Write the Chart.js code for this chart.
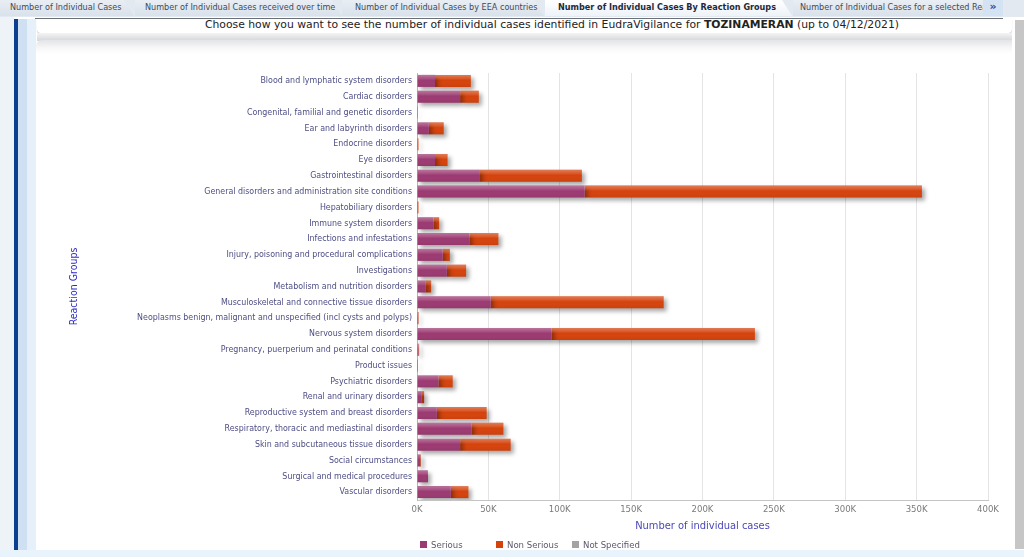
<!DOCTYPE html>
<html>
<head>
<meta charset="utf-8">
<script src="https://cdn.jsdelivr.net/npm/chart.js@4.4.0/dist/chart.umd.min.js"></script>
<style>
  html,body{margin:0;padding:0;width:1024px;height:557px;overflow:hidden;background:#fff;font-family:"DejaVu Sans",Verdana,sans-serif;}
  .abs{position:absolute;}
  #tabs{left:0;top:0;width:1024px;height:17px;background:#e3e9f0;}
  .tab{position:absolute;top:0;height:16px;line-height:15px;font-size:9px;color:#3d4b5c;font-family:"DejaVu Sans Condensed","DejaVu Sans",sans-serif;white-space:nowrap;overflow:hidden;
       background:linear-gradient(#e9eef4,#d9e1ea);clip-path:polygon(0 0,calc(100% - 10px) 0,100% 100%,0 100%);box-sizing:border-box;}
  .tab.sel{background:linear-gradient(#ffffff,#eef3f8);font-weight:bold;color:#1e2a3a;}
</style>
</head>
<body>
<div id="tabs" class="abs">
  <div class="tab" style="left:0;width:134px;padding-left:10px;">Number of Individual Cases</div>
  <div class="tab" style="left:135px;width:207px;padding-left:10px;">Number of Individual Cases received over time</div>
  <div class="tab" style="left:342px;width:202px;padding-left:13px;">Number of Individual Cases by EEA countries</div>
  <div class="tab sel" style="left:545px;width:247px;padding-left:13px;">Number of Individual Cases By Reaction Groups</div>
  <div class="tab" style="left:793px;width:190px;padding-left:7px;clip-path:none;">Number of Individual Cases for a selected Rea</div>
  <div class="abs" style="left:983px;top:0;width:20px;height:16px;background:#d4e3f3;color:#2a4a9a;font-size:11px;line-height:14px;font-weight:bold;text-align:center;">»</div>
</div>
<div class="abs" style="left:35px;top:18px;width:968px;height:1px;background:#6a6f78;"></div>
<!-- left bands -->
<div class="abs" style="left:0;top:17px;width:14px;height:540px;background:#eef3f8;"></div>
<div class="abs" style="left:14px;top:19px;width:4px;height:531px;background:#0c3f8e;"></div>
<div class="abs" style="left:18px;top:19px;width:9px;height:531px;background:#cfe0f3;"></div>
<div class="abs" style="left:27px;top:19px;width:9px;height:531px;background:#e6f0fa;"></div>
<!-- title box -->
<div class="abs" style="left:37px;top:19px;width:975px;height:14px;background:#fff;border-radius:0 0 4px 4px;box-shadow:0 1px 1px #c8c8c8;"></div>
<div class="abs" id="title" style="left:37px;top:17px;width:1030px;text-align:center;font-size:10.8px;color:#222;line-height:16px;white-space:nowrap;">Choose how you want to see the number of individual cases identified in EudraVigilance for <b>TOZINAMERAN</b> (up to 04/12/2021)</div>
<div class="abs" style="left:37px;top:33px;width:975px;height:8px;background:linear-gradient(#f4f4f4,#d4d6d9);"></div>
<!-- panel -->
<div class="abs" style="left:36px;top:40px;width:976px;height:510px;background:linear-gradient(#e2e4e7 0px,#f7f7f8 8px,#ffffff 14px);border-radius:6px 0 0 0;"></div>
<!-- scrollbar -->
<div class="abs" style="left:1015px;top:20px;width:9px;height:529px;background:#c6c6c6;"></div>
<!-- bottom strip -->
<div class="abs" style="left:0;top:550px;width:1024px;height:7px;background:#e9f3fb;"></div>

<canvas id="c" class="abs" style="left:0;top:0;" width="1024" height="557"></canvas>
<div id="legend" class="abs" style="left:0;top:538px;width:1024px;height:14px;"></div>

<script>
const categories = [
  "Blood and lymphatic system disorders",
  "Cardiac disorders",
  "Congenital, familial and genetic disorders",
  "Ear and labyrinth disorders",
  "Endocrine disorders",
  "Eye disorders",
  "Gastrointestinal disorders",
  "General disorders and administration site conditions",
  "Hepatobiliary disorders",
  "Immune system disorders",
  "Infections and infestations",
  "Injury, poisoning and procedural complications",
  "Investigations",
  "Metabolism and nutrition disorders",
  "Musculoskeletal and connective tissue disorders",
  "Neoplasms benign, malignant and unspecified (incl cysts and polyps)",
  "Nervous system disorders",
  "Pregnancy, puerperium and perinatal conditions",
  "Product issues",
  "Psychiatric disorders",
  "Renal and urinary disorders",
  "Reproductive system and breast disorders",
  "Respiratory, thoracic and mediastinal disorders",
  "Skin and subcutaneous tissue disorders",
  "Social circumstances",
  "Surgical and medical procedures",
  "Vascular disorders"
];
const serious = [12600, 30200, 200, 8300, 600, 12600, 44100, 117400, 700, 11500, 36700, 18000, 20900, 6200, 51600, 800, 94300, 1000, 50, 15000, 3400, 13900, 38300, 30200, 2200, 7000, 23700];
const nonSerious = [25100, 13100, 100, 10400, 400, 8800, 71400, 236300, 300, 4000, 20300, 5000, 13500, 3700, 121200, 300, 142400, 500, 20, 10000, 1600, 34900, 22200, 35400, 500, 600, 12300];
const notSpecified = [0,0,0,0,0,0,0,0,0,0,0,0,0,0,0,0,0,0,0,0,0,0,0,0,0,0,0];
const seriesNames = ["Serious", "Non Serious", "Not Specified"];
const seriesColors = ["#9c3a72", "#d5430d", "#a3a3a3"];
const xTicks = [0, 50000, 100000, 150000, 200000, 250000, 300000, 350000, 400000];

const shadowPlugin = {
  id: 'shadow',
  beforeDatasetsDraw(chart) {
    const ctx = chart.ctx;
    ctx.save();
    ctx.shadowColor = 'rgba(0,0,0,0.35)';
    ctx.shadowBlur = 4;
    ctx.shadowOffsetX = 3;
    ctx.shadowOffsetY = 3;
  },
  afterDatasetsDraw(chart) {
    const ctx = chart.ctx;
    ctx.restore();
    chart.data.datasets.forEach((ds, i) => {
      const meta = chart.getDatasetMeta(i);
      meta.data.forEach(el => {
        const p = el.getProps(['x','y','base','height'], true);
        const x0 = Math.min(p.x, p.base), w = Math.abs(p.x - p.base);
        if (w < 0.5) return;
        const top = p.y - p.height / 2;
        const g = ctx.createLinearGradient(0, top, 0, top + p.height);
        g.addColorStop(0, 'rgba(255,255,255,0.30)');
        g.addColorStop(0.3, 'rgba(255,255,255,0.12)');
        g.addColorStop(0.45, 'rgba(255,255,255,0)');
        g.addColorStop(1, 'rgba(0,0,0,0.05)');
        ctx.fillStyle = g;
        ctx.fillRect(x0, top, w, p.height);
      });
    });
  }
};

const labelFont = "'DejaVu Sans Condensed',sans-serif";

const chart = new Chart(document.getElementById('c'), {
  type: 'bar',
  data: {
    labels: categories,
    datasets: [
      { label: seriesNames[0], data: serious, backgroundColor: seriesColors[0] },
      { label: seriesNames[1], data: nonSerious, backgroundColor: seriesColors[1] },
      { label: seriesNames[2], data: notSpecified, backgroundColor: seriesColors[2] }
    ]
  },
  options: {
    indexAxis: 'y',
    responsive: false,
    animation: false,
    devicePixelRatio: 1,
    categoryPercentage: 1,
    barPercentage: 0.76,
    borderSkipped: false,
    layout: { padding: { left: 68, right: 36, top: 73, bottom: 21 } },
    plugins: {
      legend: { display: false },
      tooltip: { enabled: false }
    },
    scales: {
      x: {
        stacked: true,
        min: 0, max: 400000,
        afterBuildTicks(scale) { scale.ticks = xTicks.map(v => ({ value: v })); },
        afterFit(scale) { scale.height = 36; },
        grid: { color: '#e4e4e4', drawTicks: false, lineWidth: 1 },
        border: { display: true, color: '#c4c4c4' },
        ticks: {
          padding: 4,
          color: '#7b7b7b',
          font: { family: labelFont, size: 9.5 },
          callback: v => (v / 1000) + 'K'
        },
        title: {
          display: true,
          text: 'Number of individual cases',
          color: '#4a48b8',
          font: { family: "'DejaVu Sans Condensed','DejaVu Sans',sans-serif", size: 11 },
          padding: { top: 2, bottom: 3 }
        }
      },
      y: {
        stacked: true,
        afterFit(scale) { scale.width = 417 - 68; },
        grid: { display: false, drawTicks: false },
        border: { display: true, color: '#b8b8b8' },
        ticks: {
          padding: 5,
          color: '#4d4d85',
          font: { family: labelFont, size: 8.8 },
          autoSkip: false
        },
        title: {
          display: true,
          text: 'Reaction Groups',
          color: '#2c2cc8',
          font: { family: "'DejaVu Sans Condensed','DejaVu Sans',sans-serif", size: 10.5 },
          padding: 0
        }
      }
    }
  },
  plugins: [shadowPlugin]
});

const legend = document.getElementById('legend');
const legendX = [420, 496, 572];
chart.data.datasets.forEach((ds, i) => {
  const item = document.createElement('div');
  item.style.cssText = 'position:absolute;top:0;left:' + legendX[i] + 'px;height:14px;line-height:14px;font-size:9.5px;color:#5a5a6a;white-space:nowrap;font-family:' + labelFont + ';';
  item.innerHTML = '<span style="display:inline-block;width:7px;height:7px;background:' + ds.backgroundColor + ';margin-right:4px;vertical-align:0px;"></span>' + ds.label;
  legend.appendChild(item);
});
</script>
</body>
</html>
